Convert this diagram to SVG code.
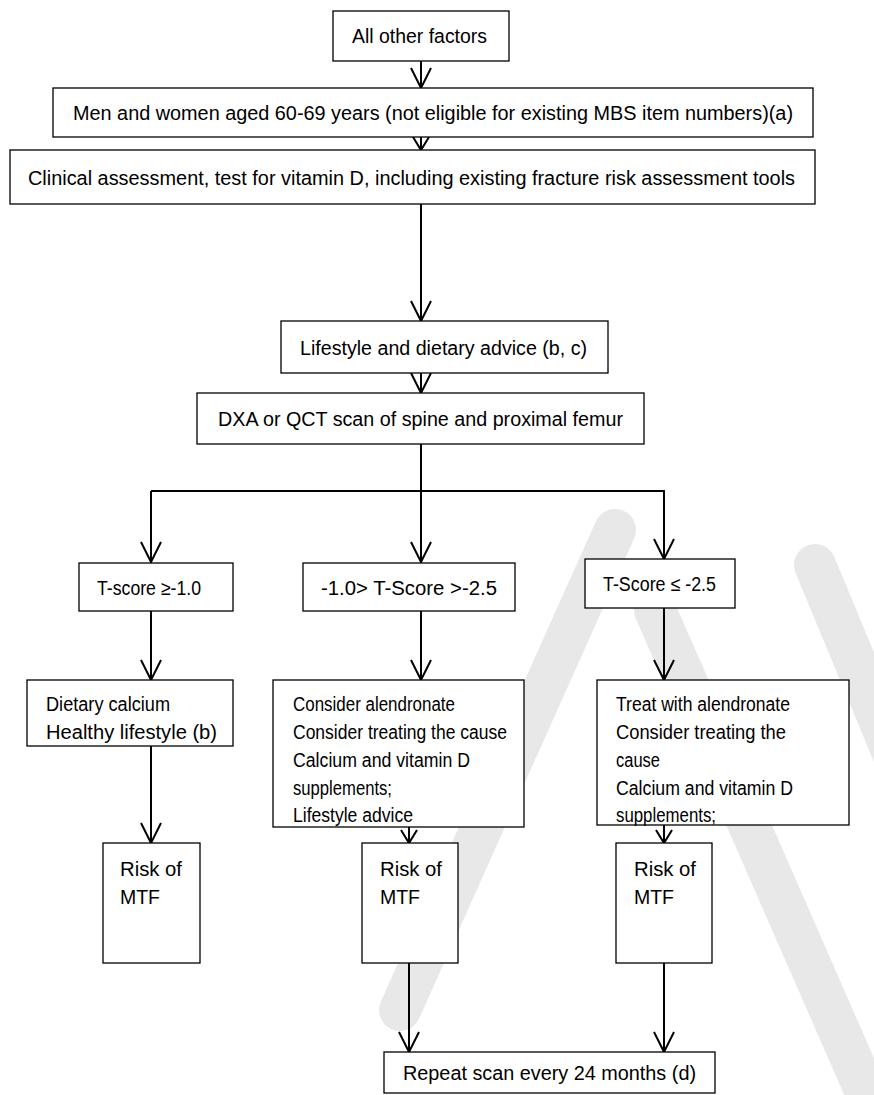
<svg xmlns="http://www.w3.org/2000/svg" width="874" height="1095" viewBox="0 0 874 1095">
<style>
.bx{fill:#fff;stroke:#000;stroke-width:1.3}
.t{font-family:"Liberation Sans",Arial,sans-serif;font-size:20px;fill:#000}
.ln{fill:none;stroke:#000;stroke-width:2}
.wm{fill:none;stroke:#e8e8e8;stroke-width:42;stroke-linecap:round}
</style>
<defs>
<marker id="ah" markerUnits="userSpaceOnUse" markerWidth="24" markerHeight="24" viewBox="-2 -2 24 24" refX="20" refY="10" orient="auto">
<path d="M0,0 L20,10 L0,20" fill="none" stroke="#000" stroke-width="2"/>
</marker>
<marker id="ahs" markerUnits="userSpaceOnUse" markerWidth="18" markerHeight="20" viewBox="-2 -2 18 20" refX="13" refY="8" orient="auto">
<path d="M0,0 L13,8 L0,16" fill="none" stroke="#000" stroke-width="2"/>
</marker>
</defs>
<rect width="874" height="1095" fill="#fff"/>
<g id="watermark">
<line class="wm" x1="615" y1="530" x2="400" y2="1010"/>
<line class="wm" x1="815" y1="565" x2="900" y2="770"/>
<line class="wm" x1="655" y1="610" x2="900" y2="1170"/>
</g>
<g id="connectors">
<line class="ln" x1="421" y1="61" x2="421" y2="88" marker-end="url(#ah)"/>
<line class="ln" x1="421" y1="137" x2="421" y2="150" marker-end="url(#ahs)"/>
<line class="ln" x1="421" y1="204" x2="421" y2="321" marker-end="url(#ah)"/>
<line class="ln" x1="421" y1="373" x2="421" y2="393" marker-end="url(#ah)"/>
<line class="ln" x1="421" y1="444" x2="421" y2="562" marker-end="url(#ah)"/>
<polyline class="ln" points="151,491 664,491 664,559" marker-end="url(#ah)"/>
<line class="ln" x1="151" y1="491" x2="151" y2="562" marker-end="url(#ah)"/>
<line class="ln" x1="151" y1="611" x2="151" y2="680" marker-end="url(#ah)"/>
<line class="ln" x1="421" y1="611" x2="421" y2="680" marker-end="url(#ah)"/>
<line class="ln" x1="664" y1="608" x2="664" y2="680" marker-end="url(#ah)"/>
<line class="ln" x1="151" y1="746" x2="151" y2="843" marker-end="url(#ah)"/>
<line class="ln" x1="409" y1="827" x2="409" y2="843" marker-end="url(#ahs)"/>
<line class="ln" x1="664" y1="825" x2="664" y2="843" marker-end="url(#ahs)"/>
<line class="ln" x1="409" y1="963" x2="409" y2="1052" marker-end="url(#ah)"/>
<line class="ln" x1="664" y1="963" x2="664" y2="1052" marker-end="url(#ah)"/>
</g>
<g id="n1"><rect class="bx" x="333" y="11" width="176" height="50"/><text class="t" x="352" y="43" textLength="135" lengthAdjust="spacingAndGlyphs">All other factors</text></g>
<g id="n2"><rect class="bx" x="53" y="88" width="760" height="49"/><text class="t" x="73" y="120" textLength="720" lengthAdjust="spacingAndGlyphs">Men and women aged 60-69 years (not eligible for existing MBS item numbers)(a)</text></g>
<g id="n3"><rect class="bx" x="10" y="150" width="805" height="54"/><text class="t" x="28" y="185" textLength="767" lengthAdjust="spacingAndGlyphs">Clinical assessment, test for vitamin D, including existing fracture risk assessment tools</text></g>
<g id="n4"><rect class="bx" x="281" y="321" width="327" height="52"/><text class="t" x="300" y="355" textLength="287" lengthAdjust="spacingAndGlyphs">Lifestyle and dietary advice (b, c)</text></g>
<g id="n5"><rect class="bx" x="197" y="393" width="447" height="51"/><text class="t" x="218" y="426" textLength="405" lengthAdjust="spacingAndGlyphs">DXA or QCT scan of spine and proximal femur</text></g>
<g id="t1"><rect class="bx" x="79" y="563" width="154" height="48"/><text class="t" x="97" y="595" textLength="104" lengthAdjust="spacingAndGlyphs">T-score ≥-1.0</text></g>
<g id="t2"><rect class="bx" x="303" y="563" width="212" height="48"/><text class="t" x="321" y="595" textLength="176" lengthAdjust="spacingAndGlyphs">-1.0&gt; T-Score &gt;-2.5</text></g>
<g id="t3"><rect class="bx" x="585" y="559" width="150" height="49"/><text class="t" x="603" y="591" textLength="113" lengthAdjust="spacingAndGlyphs">T-Score ≤ -2.5</text></g>
<g id="a1"><rect class="bx" x="27" y="680" width="206" height="66"/>
<text class="t" x="46" y="711" textLength="124" lengthAdjust="spacingAndGlyphs">Dietary calcium</text>
<text class="t" x="46" y="739" textLength="171" lengthAdjust="spacingAndGlyphs">Healthy lifestyle (b)</text></g>
<g id="a2"><rect class="bx" x="273" y="680" width="251" height="147"/>
<text class="t" x="293" y="711" textLength="162" lengthAdjust="spacingAndGlyphs">Consider alendronate</text>
<text class="t" x="293" y="739" textLength="214" lengthAdjust="spacingAndGlyphs">Consider treating the cause</text>
<text class="t" x="293" y="767" textLength="177" lengthAdjust="spacingAndGlyphs">Calcium and vitamin D</text>
<text class="t" x="293" y="795" textLength="99" lengthAdjust="spacingAndGlyphs">supplements;</text>
<text class="t" x="293" y="822" textLength="120" lengthAdjust="spacingAndGlyphs">Lifestyle advice</text></g>
<g id="a3"><rect class="bx" x="597" y="680" width="252" height="145"/>
<text class="t" x="616" y="711" textLength="174" lengthAdjust="spacingAndGlyphs">Treat with alendronate</text>
<text class="t" x="616" y="739" textLength="170" lengthAdjust="spacingAndGlyphs">Consider treating the</text>
<text class="t" x="616" y="767" textLength="44" lengthAdjust="spacingAndGlyphs">cause</text>
<text class="t" x="616" y="795" textLength="177" lengthAdjust="spacingAndGlyphs">Calcium and vitamin D</text>
<text class="t" x="616" y="822" textLength="100" lengthAdjust="spacingAndGlyphs">supplements;</text></g>
<g id="r1"><rect class="bx" x="103" y="843" width="97" height="120"/>
<text class="t" x="120" y="876" textLength="62" lengthAdjust="spacingAndGlyphs">Risk of</text>
<text class="t" x="120" y="904" textLength="40" lengthAdjust="spacingAndGlyphs">MTF</text></g>
<g id="r2"><rect class="bx" x="362" y="843" width="96" height="120"/>
<text class="t" x="380" y="876" textLength="62" lengthAdjust="spacingAndGlyphs">Risk of</text>
<text class="t" x="380" y="904" textLength="40" lengthAdjust="spacingAndGlyphs">MTF</text></g>
<g id="r3"><rect class="bx" x="616" y="843" width="96" height="120"/>
<text class="t" x="634" y="876" textLength="62" lengthAdjust="spacingAndGlyphs">Risk of</text>
<text class="t" x="634" y="904" textLength="40" lengthAdjust="spacingAndGlyphs">MTF</text></g>
<g id="rep"><rect class="bx" x="384" y="1052" width="331" height="41"/><text class="t" x="403" y="1080" textLength="293" lengthAdjust="spacingAndGlyphs">Repeat scan every 24 months (d)</text></g>
</svg>
